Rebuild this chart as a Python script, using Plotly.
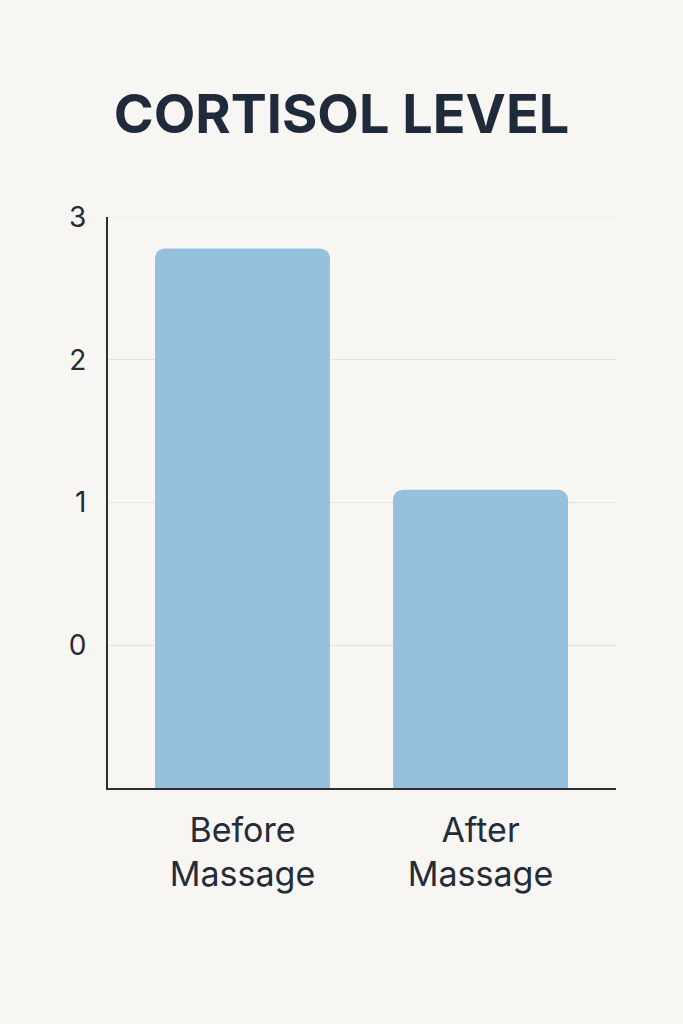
import plotly.graph_objects as go

# values
categories = ["Before<br>Massage", "After<br>Massage"]
cortisol = [2.78, 1.09]
y_ticks = [0, 1, 2, 3]

axis_floor = -1  # the bars rise from the bottom of the axis
axis_top = 3
bar_base = axis_floor - 0.1  # start a bit below so the rounded bottom is clipped

fig = go.Figure()
fig.add_trace(go.Bar(
    x=categories,
    y=[v - bar_base for v in cortisol],
    base=bar_base,
    width=0.735,
    marker=dict(color="#95c1dc", cornerradius=10, line=dict(width=0)),
    hoverinfo="skip",
))

# plotly leaves out the grid line at the very top, so draw it by hand
fig.add_shape(type="line", xref="paper", yref="y", x0=0, x1=1, y0=axis_top, y1=axis_top,
              line=dict(color="#e5e3df", width=1), layer="below")

fig.update_layout(
    width=683, height=1024,
    paper_bgcolor="#f8f6f2", plot_bgcolor="#f8f6f2",
    margin=dict(l=108, r=67, t=217, b=236),
    showlegend=False,
    title=dict(
        text="<b>CORTISOL LEVEL</b>",
        x=0.5, xanchor="center", y=0.889, yanchor="middle",
        font=dict(family="Inter", size=54, color="#1f2b3b"),
    ),
    font=dict(family="Inter", color="#232c38"),
)
fig.update_xaxes(
    range=[-0.565, 1.569],
    showline=True, linecolor="#2a2f36", linewidth=2,
    showgrid=False, ticks="",
    tickfont=dict(size=34, color="#232c38"),
    ticklabelstandoff=11,
)
fig.update_yaxes(
    range=[axis_floor, axis_top],
    tickvals=y_ticks, ticktext=[str(t) for t in y_ticks],
    showline=True, linecolor="#2a2f36", linewidth=2,
    showgrid=True, gridcolor="#e5e3df", gridwidth=1,
    zeroline=False, ticks="",
    tickfont=dict(size=28, color="#232c38"),
    ticklabelstandoff=14,
)

fig.write_html("out.html", config={"displayModeBar": False},
               post_script="document.body.style.margin='0';")
